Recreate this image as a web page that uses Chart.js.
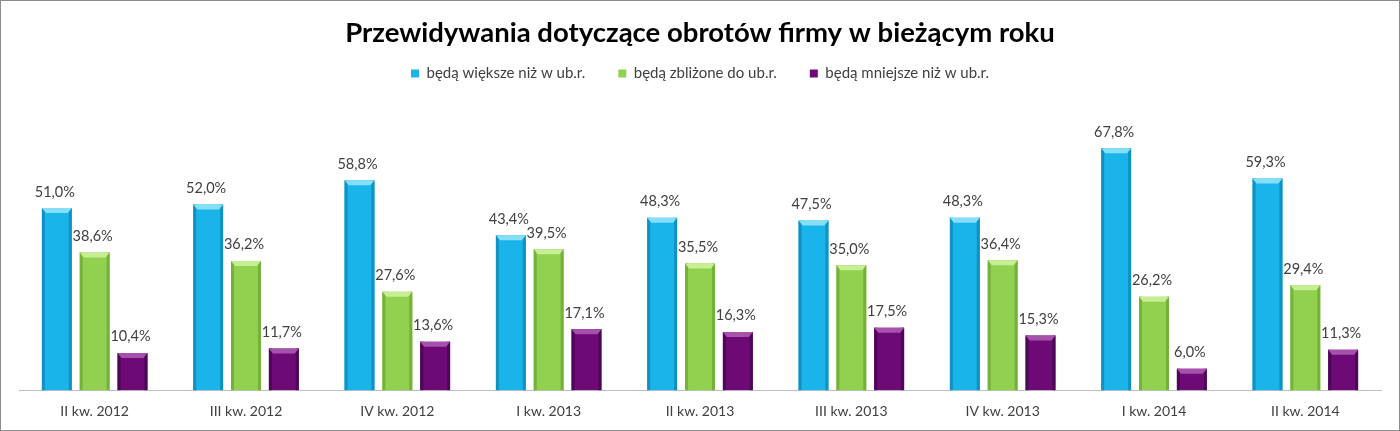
<!DOCTYPE html>
<html>
<head>
<meta charset="utf-8">
<script src="https://cdn.jsdelivr.net/npm/chart.js@4.4.1/dist/chart.umd.min.js"></script>
<style>
  body { margin: 0; background: #fff; }
  #box { width: 1398px; height: 429px; border: 1px solid #8c8c8c; }
</style>
</head>
<body>
<div id="box"><canvas id="obrotyChart" width="1398" height="429"></canvas></div>
<script>
const kwartaly = ["II kw. 2012", "III kw. 2012", "IV kw. 2012", "I kw. 2013", "II kw. 2013", "III kw. 2013", "IV kw. 2013", "I kw. 2014", "II kw. 2014"];
const wieksze = [51.0, 52.0, 58.8, 43.4, 48.3, 47.5, 48.3, 67.8, 59.3];
const zblizone = [38.6, 36.2, 27.6, 39.5, 35.5, 35.0, 36.4, 26.2, 29.4];
const mniejsze = [10.4, 11.7, 13.6, 17.1, 16.3, 17.5, 15.3, 6.0, 11.3];
const nazwySerii = ["będą większe niż w ub.r.", "będą zbliżone do ub.r.", "będą mniejsze niż w ub.r."];

const kolory = ['#19b5ea', '#92d050', '#6e0a75'];
const jasne = ['#86def8', '#c6ee92', '#a652ac'];
const ciemne = ['#0f92c2', '#74b23a', '#4e0656'];

// bevel on each bar, drawn on top of the bar elements
const bevel = {
    id: 'bevel',
    afterDatasetsDraw(chart) {
        const ctx = chart.ctx;
        chart.data.datasets.forEach((ds, i) => {
            chart.getDatasetMeta(i).data.forEach(bar => {
                const p = bar.getProps(['x', 'y', 'base', 'width'], true);
                const l = p.x - p.width / 2, r = p.x + p.width / 2;
                ctx.save();
                ctx.fillStyle = ciemne[i];
                ctx.fillRect(l, p.y, 3, p.base - p.y);
                ctx.fillRect(r - 3, p.y, 3, p.base - p.y);
                ctx.fillStyle = jasne[i];
                ctx.beginPath();
                ctx.moveTo(l, p.y);
                ctx.lineTo(r, p.y);
                ctx.lineTo(r - 4, p.y + 5);
                ctx.lineTo(l + 4, p.y + 5);
                ctx.closePath();
                ctx.fill();
                ctx.restore();
            });
        });
    }
};

const etykiety = {
    id: 'etykiety',
    afterDatasetsDraw(chart) {
        const ctx = chart.ctx;
        ctx.save();
        ctx.font = '14.5px Lato';
        ctx.fillStyle = '#404040';
        ctx.textAlign = 'center';
        ctx.textBaseline = 'bottom';
        chart.data.datasets.forEach((ds, i) => {
            chart.getDatasetMeta(i).data.forEach((bar, j) => {
                const txt = ds.data[j].toFixed(1).replace('.', ',') + '%';
                ctx.fillText(txt, bar.x - 2, bar.y - 9);
            });
        });
        ctx.restore();
    }
};

const serie = [wieksze, zblizone, mniejsze];

new Chart(document.getElementById('obrotyChart'), {
    type: 'bar',
    data: {
        labels: kwartaly,
        datasets: serie.map((d, i) => ({
            label: nazwySerii[i],
            data: d,
            backgroundColor: kolory[i],
            borderWidth: 0,
            categoryPercentage: 0.75,
            barPercentage: 0.79
        }))
    },
    options: {
        responsive: false,
        animation: false,
        layout: { padding: { left: 18, right: 18, top: 4, bottom: 5 } },
        scales: {
            x: {
                grid: { display: false },
                border: { color: '#bfbfbf', width: 1 },
                ticks: { color: '#404040', font: { family: 'Lato', size: 14 }, padding: 5 }
            },
            y: { display: false, min: 0, max: 83.8 }
        },
        plugins: {
            title: {
                display: true,
                text: 'Przewidywania dotyczące obrotów firmy w bieżącym roku',
                color: '#000',
                font: { family: 'Lato', size: 27.5, weight: 'bold' },
                padding: { top: 12, bottom: -17 }
            },
            legend: {
                labels: {
                    color: '#404040',
                    font: { family: 'Lato', size: 15 },
                    boxWidth: 8,
                    boxHeight: 8,
                    padding: 33
                }
            },
            tooltip: { enabled: false }
        }
    },
    plugins: [bevel, etykiety]
});
</script>
</body>
</html>
